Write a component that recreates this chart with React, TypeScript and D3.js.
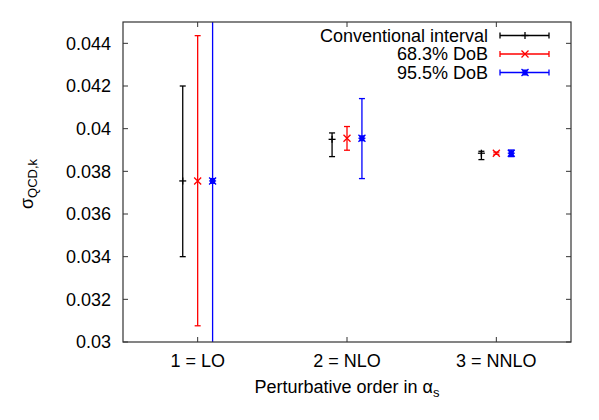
import * as d3 from "d3";
import React from "react";

// perturbative orders on the x axis
const orders = [1, 2, 3];
const orderLabels = ["1 = LO", "2 = NLO", "3 = NNLO"];
const yTicks = [0.03, 0.032, 0.034, 0.036, 0.038, 0.04, 0.042, 0.044];

// conventional scale-variation interval
const convCentral = [0.03755, 0.0395, 0.03885];
const convLow = [0.034, 0.03869, 0.03855];
const convHigh = [0.042, 0.0398, 0.03894];

// 68.3% degree of belief
const dob68Central = [0.03755, 0.03955, 0.03885];
const dob68Low = [0.03076, 0.03899, 0.0388];
const dob68High = [0.04436, 0.0401, 0.0389];

// 95.5% degree of belief
const dob95Central = [0.03755, 0.03955, 0.03885];
const dob95Low = [0.0285, 0.03766, 0.03869];
const dob95High = [0.0466, 0.04141, 0.039];

const seriesNames = ["Conventional interval", "68.3% DoB", "95.5% DoB"];
const seriesColours = ["#000000", "#ff0000", "#0000ff"];
const seriesMarkers = ["plus", "cross", "star"];

export default function App() {
  const ref = React.useRef<HTMLDivElement>(null);

  React.useEffect(() => {
    ref.current!.innerHTML = "";
    const W = 599;
    const H = 420;
    const margin = { left: 123, right: 28, top: 22, bottom: 78 };
    const width = W - margin.left - margin.right;
    const height = H - margin.top - margin.bottom;
    const font = "'Liberation Sans', Arial, Helvetica, sans-serif";
    const fs = "18px";

    const svg = d3
      .select(ref.current)
      .append("svg")
      .attr("width", W)
      .attr("height", H)
      .style("display", "block")
      .style("font-family", font);
    svg.append("rect").attr("width", W).attr("height", H).attr("fill", "#fff");

    const g = svg.append("g").attr("transform", `translate(${margin.left},${margin.top})`);

    const x = d3.scaleLinear().domain([0.5, 3.5]).range([0, width]);
    const y = d3.scaleLinear().domain([0.03, 0.045]).range([height, 0]);

    g.append("clipPath")
      .attr("id", "plot-clip")
      .append("rect")
      .attr("width", width)
      .attr("height", height);

    const fmt = (d: number) => String(+d.toFixed(3));

    // y ticks (left and mirrored right)
    const yAxis = g.append("g");
    yTicks.forEach((t) => {
      yAxis.append("line").attr("x1", 0).attr("x2", 5).attr("y1", y(t)).attr("y2", y(t)).attr("stroke", "#333");
      yAxis.append("line").attr("x1", width).attr("x2", width - 5).attr("y1", y(t)).attr("y2", y(t)).attr("stroke", "#333");
      yAxis
        .append("text")
        .attr("x", -12)
        .attr("y", y(t))
        .attr("dy", "0.36em")
        .attr("text-anchor", "end")
        .style("font-size", fs)
        .text(fmt(t));
    });

    // x ticks (bottom and mirrored top)
    const xAxis = g.append("g");
    orders.forEach((o, i) => {
      xAxis.append("line").attr("x1", x(o)).attr("x2", x(o)).attr("y1", height).attr("y2", height - 5).attr("stroke", "#333");
      xAxis.append("line").attr("x1", x(o)).attr("x2", x(o)).attr("y1", 0).attr("y2", 5).attr("stroke", "#333");
      xAxis
        .append("text")
        .attr("x", x(o))
        .attr("y", height + 25)
        .attr("text-anchor", "middle")
        .style("font-size", fs)
        .text(orderLabels[i]);
    });

    const drawMarker = (sel: any, kind: string, cx: number, cy: number, colour: string) => {
      const s = 3.5;
      if (kind === "plus" || kind === "star") {
        sel.append("line").attr("x1", cx - s).attr("x2", cx + s).attr("y1", cy).attr("y2", cy).attr("stroke", colour).attr("stroke-width", 1.3);
      }
      if (kind === "plus") {
        sel.append("line").attr("x1", cx).attr("x2", cx).attr("y1", cy - s).attr("y2", cy + s).attr("stroke", colour).attr("stroke-width", 1.3);
      }
      if (kind === "cross" || kind === "star") {
        sel.append("path")
          .attr("d", `M${cx - s},${cy - s}L${cx + s},${cy + s}M${cx - s},${cy + s}L${cx + s},${cy - s}`)
          .attr("stroke", colour)
          .attr("stroke-width", 1.3)
          .attr("fill", "none");
      }
      if (kind === "star") {
        sel.append("rect").attr("x", cx - 2.5).attr("y", cy - 3).attr("width", 5).attr("height", 6).attr("fill", colour);
      }
    };

    const series = [
      { c: convCentral, lo: convLow, hi: convHigh, dx: -0.1 },
      { c: dob68Central, lo: dob68Low, hi: dob68High, dx: 0 },
      { c: dob95Central, lo: dob95Low, hi: dob95High, dx: 0.1 },
    ];

    const plot = g.append("g").attr("clip-path", "url(#plot-clip)");
    const cap = 3;
    series.forEach((s, k) => {
      const colour = seriesColours[k];
      orders.forEach((o, i) => {
        const px = x(o + s.dx);
        plot.append("line").attr("x1", px).attr("x2", px).attr("y1", y(s.lo[i])).attr("y2", y(s.hi[i])).attr("stroke", colour).attr("stroke-width", 1.3);
        [s.lo[i], s.hi[i]].forEach((v) => {
          plot.append("line").attr("x1", px - cap).attr("x2", px + cap).attr("y1", y(v)).attr("y2", y(v)).attr("stroke", colour).attr("stroke-width", 1.3);
        });
        drawMarker(plot, seriesMarkers[k], px, y(s.c[i]), colour);
      });
    });

    // frame
    g.append("rect")
      .attr("width", width)
      .attr("height", height)
      .attr("fill", "none")
      .attr("stroke", "#333")
      .attr("stroke-width", 1.2);

    // legend
    const legend = svg.append("g");
    seriesNames.forEach((name, k) => {
      const ly = 35.5 + k * 18.5;
      const colour = seriesColours[k];
      legend
        .append("text")
        .attr("x", 488)
        .attr("y", ly)
        .attr("dy", "0.36em")
        .attr("text-anchor", "end")
        .style("font-size", fs)
        .text(name);
      legend.append("line").attr("x1", 500).attr("x2", 549).attr("y1", ly).attr("y2", ly).attr("stroke", colour).attr("stroke-width", 1.3);
      [500, 549].forEach((lx) => {
        legend.append("line").attr("x1", lx).attr("x2", lx).attr("y1", ly - cap).attr("y2", ly + cap).attr("stroke", colour).attr("stroke-width", 1.3);
      });
      drawMarker(legend, seriesMarkers[k], 525, ly, colour);
    });

    // x axis label
    const xl = svg
      .append("text")
      .attr("x", 347)
      .attr("y", 393)
      .attr("text-anchor", "middle")
      .style("font-size", fs);
    xl.append("tspan").text("Perturbative order in α");
    xl.append("tspan").attr("dy", 4).style("font-size", "13px").text("s");

    // y axis label
    const yl = svg
      .append("text")
      .attr("transform", "translate(33,184) rotate(-90)")
      .attr("text-anchor", "middle")
      .style("font-size", fs);
    yl.append("tspan").text("σ");
    yl.append("tspan").attr("dy", 4).style("font-size", "13px").text("QCD,k");
  }, []);

  return <div ref={ref} style={{ position: "absolute", left: 0, top: 0 }}></div>;
}
